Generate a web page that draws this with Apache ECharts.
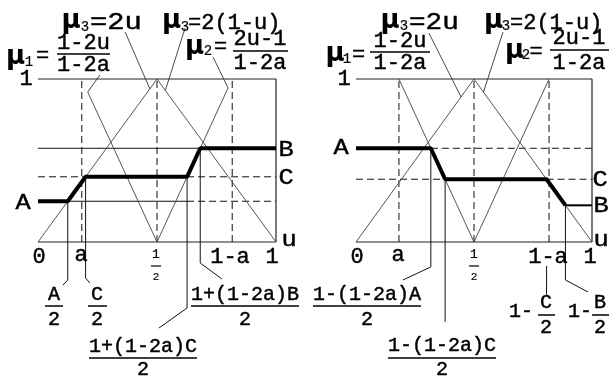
<!DOCTYPE html>
<html>
<head>
<meta charset="utf-8">
<title>Resulting membership for rising and falling levels</title>
<script src="https://cdn.jsdelivr.net/npm/echarts/dist/echarts.min.js"></script>
<style>
html, body { margin: 0; padding: 0; background: #fff; }
#chart { width: 616px; height: 382px; }
</style>
</head>
<body>
<div id="chart"></div>
<script>
// ---------- values (u along the horizontal, membership on the vertical) ----------
const tickLabels = ['0', 'a', '1-a', '1'];
const leftTickU = [0, 0.184, 0.816, 1];
const rightTickU = [0, 0.182, 0.818, 1];
const halfU = 0.5;

// output levels A, C, B
const levelNames = ['A', 'C', 'B'];
const leftLevels = [0.25, 0.40, 0.575];
const rightLevels = [0.575, 0.385, 0.225];

// corners of the bold resulting curve
const leftCurveU = [0, 0.125, 0.2, 0.6264, 0.6817, 1];
const leftCurveMu = [0.25, 0.25, 0.40, 0.40, 0.575, 0.575];
const rightCurveU = [0, 0.3171, 0.3776, 0.8075, 0.8875];
const rightCurveMu = [0.575, 0.575, 0.385, 0.385, 0.225];

// membership lines: mu3 = 2u, mu3 = 2(1-u), mu1, mu2
const mu3Rise = [[0, 0], [0.5, 1]];
const mu3Fall = [[0.5, 1], [1, 0]];
const leftMu1 = [[0.209, 0.92], [0.5, 0]];
const leftMu2 = [[0.5, 0], [0.7986, 0.945]];
const rightMu1 = [[0.182, 1], [0.5, 0]];
const rightMu2 = [[0.5, 0], [0.818, 1]];

// ---------- styles ----------
const INK = '#000';
const FRAME = { color: '#222', width: 1.2 };
const THIN = { color: '#111', width: 1 };
const DASH = { color: '#111', width: 1, type: [7, 4] };
const DIAG = { color: '#444', width: 0.9 };
const LEAD = { color: '#333', width: 0.9 };
const BOLD = { color: INK, width: 4 };
const MID = { color: INK, width: 2 };

function seg(g, pts, style, z) {
  return {
    type: 'line', xAxisIndex: g, yAxisIndex: g, data: pts,
    symbol: 'none', clip: false, silent: true, animation: false,
    lineStyle: style, z: z || 2
  };
}

function panelFrame(g) {
  return [
    seg(g, [[0, 1], [1, 1]], FRAME),
    seg(g, [[1, 1], [1, 0]], FRAME),
    seg(g, [[0, 0], [1, 0]], FRAME)
  ];
}

const series = [];

// ----- left panel: A < C < B -----
(function () {
  const g = 0;
  const [A, C, B] = leftLevels;
  const U = leftCurveU, M = leftCurveMu;
  series.push(...panelFrame(g));
  [leftTickU[1], halfU, leftTickU[2]].forEach(u => series.push(seg(g, [[u, 0], [u, 1]], DASH)));
  series.push(seg(g, [[0, B], [U[4], B]], THIN));
  series.push(seg(g, [[0, C], [U[2], C]], DASH));
  series.push(seg(g, [[U[3], C], [1, C]], DASH));
  series.push(seg(g, [[U[1], A], [U[3], A]], THIN));
  series.push(seg(g, [[U[3], A], [1, A]], DASH));
  [mu3Rise, mu3Fall, leftMu1, leftMu2].forEach(p => series.push(seg(g, p, DIAG)));
  // drop lines from the corners to their labels
  series.push(seg(g, [[U[1], M[1]], [U[1], -0.233], [0.105, -0.264]], THIN));
  series.push(seg(g, [[U[2], M[2]], [U[2], -0.221], [0.218, -0.252]], THIN));
  series.push(seg(g, [[U[3], M[3]], [U[3], -0.405], [0.508, -0.528]], THIN));
  series.push(seg(g, [[U[4], M[4]], [U[4], -0.129], [0.773, -0.227]], THIN));
  // pointers from the formulas to their lines
  series.push(seg(g, [[0.26, 1.025], leftMu1[0]], LEAD));
  series.push(seg(g, [[0.366, 1.288], [0.47, 0.94]], LEAD));
  series.push(seg(g, [[0.618, 1.313], [0.535, 0.93]], LEAD));
  series.push(seg(g, [[0.735, 1.136], leftMu2[1]], LEAD));
  series.push(seg(g, U.map((u, i) => [u, M[i]]), BOLD, 5));
})();

// ----- right panel: A > C > B -----
(function () {
  const g = 1;
  const [A, C, B] = rightLevels;
  const U = rightCurveU, M = rightCurveMu;
  series.push(...panelFrame(g));
  [rightTickU[1], halfU, rightTickU[2]].forEach(u => series.push(seg(g, [[u, 0], [u, 1]], DASH)));
  series.push(seg(g, [[U[1], A], [1, A]], DASH));
  series.push(seg(g, [[0, C], [U[2], C]], DASH));
  series.push(seg(g, [[U[3], C], [1, C]], DASH));
  series.push(seg(g, [[U[4], B], [1, B]], MID));
  [mu3Rise, mu3Fall, rightMu1, rightMu2].forEach(p => series.push(seg(g, p, DIAG)));
  series.push(seg(g, [[U[1], M[1]], [U[1], -0.153], [0.199, -0.233]], THIN));
  series.push(seg(g, [[U[2], M[2]], [U[2], -0.49]], THIN));
  series.push(seg(g, [[U[3], -0.147], [U[3], -0.325]], THIN));
  series.push(seg(g, [[U[4], M[4]], [U[4], -0.233], [0.983, -0.307]], THIN));
  series.push(seg(g, [[0.309, 1.282], [0.445, 0.89]], LEAD));
  series.push(seg(g, [[0.623, 1.288], [0.54, 0.92]], LEAD));
  series.push(seg(g, U.map((u, i) => [u, M[i]]), BOLD, 5));
})();

// ---------- text ----------
const MONO = '"Liberation Mono", "DejaVu Sans Mono", monospace';
function T(text, x, y, size, align, extra, sx) {
  const st = Object.assign({
    text: text, fill: INK, stroke: INK, lineWidth: 0.45,
    font: (size || 22) + 'px ' + MONO,
    textAlign: align || 'center', textVerticalAlign: 'middle',
    align: align || 'center', verticalAlign: 'middle'
  }, extra || {});
  return { type: 'text', x: x, y: y, scaleX: sx || 1, silent: true, z: 10, style: st };
}
function bar(x1, x2, y, w) {
  return { type: 'line', silent: true, z: 10,
    shape: { x1: x1, y1: y, x2: x2, y2: y },
    style: { stroke: INK, lineWidth: w || 1.5 } };
}
function frac(num, den, cx, yNum, yBar, yDen, x1, x2, size) {
  return [T(num, cx, yNum, size), bar(x1, x2, yBar), T(den, cx, yDen, size)];
}
function mu(x, y, sub, sx, sy) {
  return [
    T('\u03bc', x, y, 26, 'center', { font: 'bold 26px "DejaVu Sans", sans-serif', lineWidth: 0 }),
    T(sub, sx, sy, 14, 'center', { lineWidth: 0.2 })
  ];
}
function half(cx) {
  return [T('1', cx, 255, 13, 'center', { lineWidth: 0.2 }), bar(cx - 5, cx + 5, 266, 1.2),
          T('2', cx, 277, 11, 'center', { lineWidth: 0.2 })];
}
function letter(t, x, y) { return T(t, x, y, 22, 'center', null, 1.15); }

const texts = [
  // left panel
  T('1', 26, 79), letter(levelNames[0], 23, 203), letter(levelNames[2], 286, 150), letter(levelNames[1], 286, 178),
  letter('u', 289, 240),
  T(tickLabels[0], 39, 257), T(tickLabels[1], 81, 255), T(tickLabels[2], 230, 257), T(tickLabels[3], 272, 257),
  ...half(156),
  ...frac('A', '2', 54, 295, 306, 320, 45, 63, 20),
  ...frac('C', '2', 97, 295, 306, 320, 88, 107, 20),
  ...frac('1+(1-2a)B', '2', 245, 295, 306, 320, 191, 299, 20),
  ...frac('1+(1-2a)C', '2', 143, 347, 358, 370, 89, 197, 20),
  ...mu(71, 21, '3', 85, 27), T('=2u', 90, 23, 23, 'left', null, 1.25),
  ...mu(171.5, 21, '3', 185, 27), T('=2(1-u)', 188, 23, 22, 'left'),
  ...mu(15.5, 57, '1', 29, 62), T('=', 42.5, 56),
  ...frac('1-2u', '1-2a', 83.5, 43, 54, 65, 57, 110, 22),
  ...mu(194.5, 47, '2', 208, 51), T('=', 220.5, 47),
  ...frac('2u-1', '1-2a', 260, 39, 51, 63, 233, 288, 22),

  // right panel
  T('1', 344, 79), letter(levelNames[0], 341, 148), letter(levelNames[1], 600, 180), letter(levelNames[2], 601, 206),
  letter('u', 601, 240),
  T(tickLabels[0], 357, 257), T(tickLabels[1], 398, 255), T(tickLabels[2], 548, 257), T(tickLabels[3], 590, 257),
  ...half(474),
  ...frac('1-(1-2a)A', '2', 367, 295, 306, 320, 313, 421, 20),
  ...frac('1-(1-2a)C', '2', 442, 346, 358, 370, 388, 496, 20),
  T('1-', 521, 312, 20), ...frac('C', '2', 546, 303, 315, 328, 538, 555, 20),
  T('1-', 580, 312, 20), ...frac('B', '2', 600, 303, 315, 328, 592, 609, 20),
  ...mu(390, 21, '3', 404, 26), T('=2u', 409, 23, 23, 'left', null, 1.2),
  ...mu(493.5, 21, '3', 506, 26), T('=2(1-u)', 510, 23, 22, 'left'),
  ...mu(335, 54, '1', 347, 59), T('=', 358.5, 55),
  ...frac('1-2u', '1-2a', 400, 41, 52, 63, 370, 430, 22),
  ...mu(514.5, 51, '2', 526, 55), T('=', 536, 52),
  ...frac('2u-1', '1-2a', 579, 38, 50, 63, 550, 609, 22)
];

const axisOff = { type: 'value', min: 0, max: 1, show: false };
const chart = echarts.init(document.getElementById('chart'), null, { renderer: 'canvas' });
chart.setOption({
  animation: false,
  backgroundColor: '#fff',
  grid: [
    { left: 38, top: 79, width: 238, height: 163 },
    { left: 356, top: 79, width: 236, height: 163 }
  ],
  xAxis: [Object.assign({ gridIndex: 0 }, axisOff), Object.assign({ gridIndex: 1 }, axisOff)],
  yAxis: [Object.assign({ gridIndex: 0 }, axisOff), Object.assign({ gridIndex: 1 }, axisOff)],
  series: series,
  graphic: texts
});
</script>
</body>
</html>
